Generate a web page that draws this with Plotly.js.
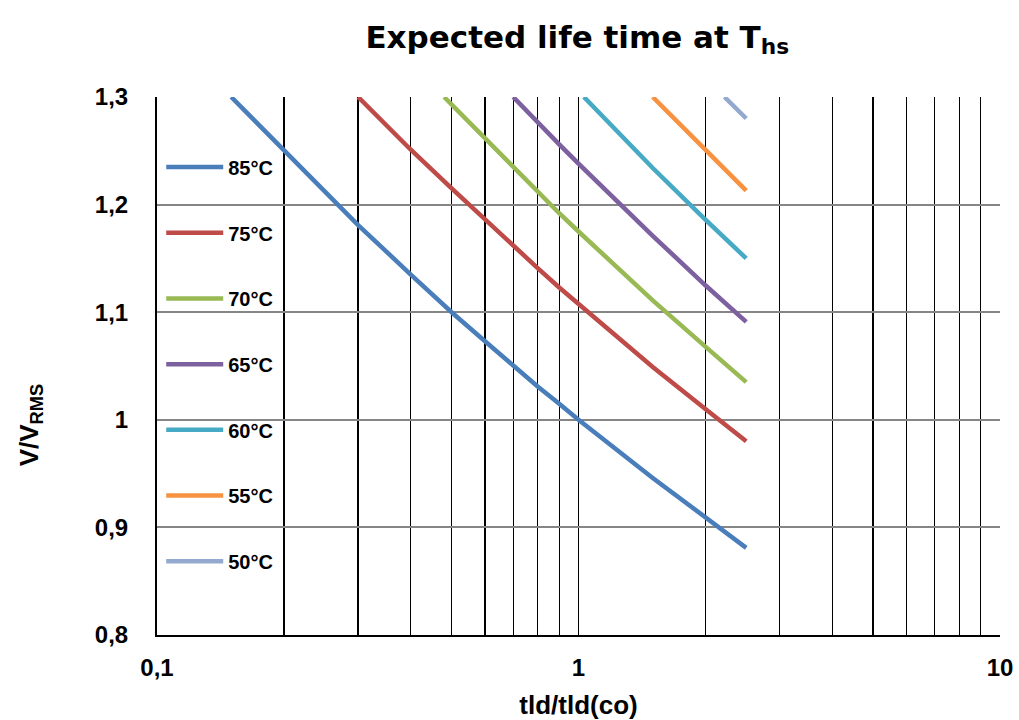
<!DOCTYPE html>
<html>
<head>
<meta charset="utf-8">
<script src="https://cdn.plot.ly/plotly-3.0.1.min.js"></script>
<style>html,body{margin:0;padding:0;background:#fff;}#chart{width:1019px;height:720px;}</style>
</head>
<body>
<div id="chart"></div>
<script>
// Data
const names = ['85°C','75°C','70°C','65°C','60°C','55°C','50°C'];
const colors = ['#4A7EBB','#BE4B48','#98B954','#7D60A0','#46AAC5','#F69240','#93A9CF'];

const x85 = [0.15,0.2,0.3,0.4,0.5,0.6,0.7,0.8,0.9,1,1.5,2,2.5];
const y85 = [1.300,1.250,1.181,1.135,1.100,1.073,1.050,1.031,1.015,1.000,0.946,0.909,0.881];

const x75 = [0.3,0.4,0.5,0.6,0.7,0.8,0.9,1,1.5,2,2.5];
const y75 = [1.300,1.251,1.215,1.186,1.161,1.141,1.123,1.108,1.049,1.010,0.980];

const x70 = [0.48,0.5,0.6,0.7,0.8,0.9,1,1.5,2,2.5];
const y70 = [1.300,1.293,1.261,1.234,1.212,1.192,1.175,1.111,1.068,1.035];

const x65 = [0.7,0.8,0.9,1,1.5,2,2.5];
const y65 = [1.300,1.276,1.256,1.238,1.171,1.125,1.091];

const x60 = [1.03,1.5,2,2.5];
const y60 = [1.300,1.234,1.186,1.150];

const x55 = [1.5,2,2.5];
const y55 = [1.300,1.251,1.213];

const x50 = [2.22,2.5];
const y50 = [1.300,1.280];

const xs = [x85,x75,x70,x65,x60,x55,x50];
const ys = [y85,y75,y70,y65,y60,y55,y50];

const xTickVals = [0.1,0.2,0.3,0.4,0.5,0.6,0.7,0.8,0.9,1,2,3,4,5,6,7,8,9,10];
const xTickText = ['0,1','','','','','','','','','1','','','','','','','','','10'];
const yTickVals = [0.8,0.9,1.0,1.1,1.2,1.3];
const yTickText = ['0,8','0,9','1','1,1','1,2','1,3'];

const FONT = 'Arial, "Liberation Sans", sans-serif';

const traces = names.map((n,i)=>({
  type:'scatter', mode:'lines', name:n,
  x: xs[i], y: ys[i],
  legendgroup: 'g'+i,
  line:{color:colors[i], width:4.5},
  hoverinfo:'skip'
}));

const layout = {
  width:1019, height:720,
  paper_bgcolor:'#fff', plot_bgcolor:'#fff',
  margin:{l:157, r:19, t:97, b:85},
  separators:',.',
  font:{family:FONT, color:'#000'},
  title:{text:'<b>Expected life time at T<sub>hs</sub></b>', font:{size:31, family:'"DejaVu Sans", Arial, sans-serif', color:'#000'}, x:0.5665, xref:'container', xanchor:'center', y:0.949, yref:'container', yanchor:'middle'},
  xaxis:{
    type:'log', range:[-1,1],
    tickvals:xTickVals, ticktext:xTickText,
    showgrid:true, gridcolor:'#000', gridwidth:1.3,
    showline:true, linecolor:'#000', linewidth:2, mirror:false,
    ticks:'', ticklabelstandoff:10,
    tickfont:{size:24, family:FONT, color:'#000', weight:'bold'},
    zeroline:false,
    title:{text:'<b>tld/tld(co)</b>', font:{size:26, family:FONT, color:'#000'}, standoff:17}
  },
  yaxis:{
    range:[0.8,1.3],
    tickvals:yTickVals, ticktext:yTickText,
    showgrid:true, gridcolor:'#868686', gridwidth:2,
    showline:true, linecolor:'#000', linewidth:2,
    ticks:'', ticklabelstandoff:22,
    tickfont:{size:24, family:FONT, color:'#000', weight:'bold'},
    zeroline:false
  },
  annotations:[{
    text:'<b>V/V<sub>RMS</sub></b>', textangle:-90,
    xref:'paper', yref:'paper', x:-0.1505, y:0.39, xanchor:'center', yanchor:'middle',
    showarrow:false, font:{size:26, family:FONT, color:'#000'}
  }],
  showlegend:true,
  legend:{
    x:0.005, y:0.906, xanchor:'left', yanchor:'top',
    bgcolor:'rgba(0,0,0,0)', borderwidth:0,
    font:{size:20, family:FONT, color:'#000', weight:'bold'},
    traceorder:'grouped', tracegroupgap:36.7, itemwidth:57
  }
};

Plotly.newPlot('chart', traces, layout, {staticPlot:true, displayModeBar:false});
</script>
</body>
</html>
